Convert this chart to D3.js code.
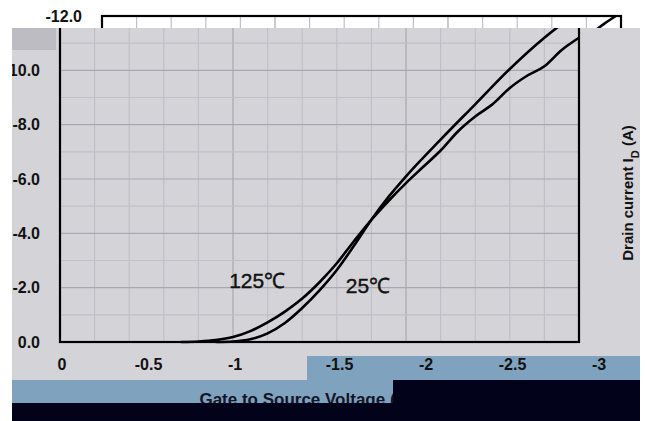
<!DOCTYPE html>
<html>
<head>
<meta charset="utf-8">
<script src="https://cdn.jsdelivr.net/npm/d3@7"></script>
<style>
body { margin: 0; background: #fff; }
svg { display: block; }
</style>
</head>
<body>
<svg id="chart" width="645" height="421"></svg>
<script>
// transfer characteristic
let vgs25 = [-0.9, -1.0, -1.1, -1.2, -1.3, -1.4, -1.5, -1.6, -1.7, -1.8, -1.9, -2.0, -2.2, -2.4, -2.6, -2.8, -2.9, -2.97]
let id25 = [0, 0.02, 0.1, 0.32, 0.7, 1.25, 1.9, 2.65, 3.55, 4.5, 5.35, 6.1, 7.45, 8.75, 10.05, 11.2, 11.7, 12.0]

let vgs125 = [-0.7, -0.8, -0.9, -1.0, -1.1, -1.2, -1.3, -1.4, -1.5, -1.6, -1.7, -1.8, -1.9, -2.0, -2.1, -2.2, -2.3, -2.4, -2.5, -2.6, -2.7, -2.8, -2.9, -3.0]
let id125 = [0, 0.02, 0.07, 0.18, 0.4, 0.72, 1.12, 1.6, 2.2, 2.9, 3.72, 4.5, 5.2, 5.85, 6.45, 7.05, 7.75, 8.3, 8.75, 9.35, 9.8, 10.15, 10.75, 11.2]

let xTicks = [0, -0.5, -1, -1.5, -2, -2.5, -3]
let xTickLabels = ['0', '-0.5', '-1', '-1.5', '-2', '-2.5', '-3']
let yTicks = [0, 2, 4, 6, 8, 10, 12]
let yTickLabels = ['0.0', '-2.0', '-4.0', '-6.0', '-8.0', '-10.0', '-12.0']

let tempLabels = ['125℃', '25℃']
let tempAt = [[-1.14, 2.25], [-1.78, 2.1]]

let svg = d3.select('#chart')
let x = d3.scaleLinear().domain([0, -3]).range([60, 579])
let y = d3.scaleLinear().domain([0, 12]).range([342, 16])

let defs = svg.append('defs')
defs.append('clipPath').attr('id', 'clipMain')
  .append('rect').attr('x', 12).attr('y', 28).attr('width', 628).attr('height', 393)
defs.append('clipPath').attr('id', 'clipTop')
  .append('rect').attr('x', 0).attr('y', 0).attr('width', 645).attr('height', 28)

// background bands (the picture is partly shifted)
svg.append('path').attr('fill', '#d4d3d8')
  .attr('d', 'M12,28H640V356H307V380H12Z')
svg.append('path').attr('fill', '#7fa2be')
  .attr('d', 'M12,380H307V356H640V380H393V403H12Z')
svg.append('rect').attr('x', 12).attr('y', 28).attr('width', 44).attr('height', 22).attr('fill', '#bdbcc2')

function drawPlot (g, full) {
  let xMinor = x.ticks(12)
  let yMinor = y.ticks(12)

  g.selectAll('.vgrid')
    .data(xMinor)
    .enter().append('line')
    .attr('x1', function (d) { return x(d) })
    .attr('x2', function (d) { return x(d) })
    .attr('y1', y(12))
    .attr('y2', y(0))
    .attr('stroke', function (d) { return Math.abs(d * 2 - Math.round(d * 2)) < 1e-6 ? '#a9a8ae' : '#c1c0c6' })
    .attr('stroke-width', 1.2)

  g.selectAll('.hgrid')
    .data(yMinor)
    .enter().append('line')
    .attr('x1', x(0))
    .attr('x2', x(-3))
    .attr('y1', function (d) { return y(d) })
    .attr('y2', function (d) { return y(d) })
    .attr('stroke', function (d) { return d % 2 === 0 ? '#a9a8ae' : '#c1c0c6' })
    .attr('stroke-width', 1.2)

  let line = d3.line()
    .x(function (d) { return x(d[0]) })
    .y(function (d) { return y(d[1]) })
    .curve(d3.curveMonotoneX)

  g.append('path')
    .attr('d', line(d3.zip(vgs125, id125)))
    .attr('fill', 'none')
    .attr('stroke', '#000')
    .attr('stroke-width', 2.6)

  g.append('path')
    .attr('d', line(d3.zip(vgs25, id25)))
    .attr('fill', 'none')
    .attr('stroke', '#000')
    .attr('stroke-width', 2.6)

  g.append('rect')
    .attr('x', x(0))
    .attr('y', y(12))
    .attr('width', x(-3) - x(0))
    .attr('height', y(0) - y(12))
    .attr('fill', 'none')
    .attr('stroke', '#000')
    .attr('stroke-width', 2.2)

  // only the top tick label shows in the shifted strip
  let yShown = full ? yTicks.slice(0, -1) : yTicks.slice(-1)
  g.selectAll('.ylab')
    .data(yShown)
    .enter().append('text')
    .attr('x', 40)
    .attr('y', function (d) { return y(d) })
    .attr('dy', '0.36em')
    .attr('text-anchor', 'end')
    .style('font', 'bold 16px "Liberation Sans", Arial, sans-serif')
    .attr('fill', '#111')
    .text(function (d) { return yTickLabels[yTicks.indexOf(d)] })

  if (!full) return

  g.selectAll('.xlab')
    .data(xTicks)
    .enter().append('text')
    .attr('x', function (d) { return x(d) + (x(d) > 300 ? 20 : 2) })
    .attr('y', 364)
    .attr('dy', '0.36em')
    .attr('text-anchor', 'middle')
    .style('font', 'bold 16px "Liberation Sans", Arial, sans-serif')
    .attr('fill', '#111')
    .text(function (d, i) { return xTickLabels[i] })

  g.selectAll('.temp')
    .data(tempAt)
    .enter().append('text')
    .attr('x', function (d) { return x(d[0]) })
    .attr('y', function (d) { return y(d[1]) })
    .attr('dy', '0.36em')
    .attr('text-anchor', 'middle')
    .style('font', '21px "Liberation Sans Narrow", "Arial Narrow", sans-serif')
    .attr('fill', '#111')
    .attr('stroke', '#111')
    .attr('stroke-width', 0.4)
    .text(function (d, i) { return tempLabels[i] })

  g.append('text')
    .attr('x', 306)
    .attr('y', 405)
    .attr('text-anchor', 'middle')
    .style('font', 'bold 17px "Liberation Sans", Arial, sans-serif')
    .attr('fill', '#141428')
    .text('Gate to  Source Voltage (V)')

  let yt = g.append('text')
    .attr('transform', 'translate(628,193) rotate(-90)')
    .attr('dy', '0.36em')
    .attr('text-anchor', 'middle')
    .style('font', 'bold 15px "Liberation Sans", Arial, sans-serif')
    .attr('fill', '#111')
  yt.append('tspan').text('Drain current I')
  yt.append('tspan').attr('baseline-shift', 'sub').style('font-size', '11px').text('D')
  yt.append('tspan').text(' (A)')
}

drawPlot(svg.append('g').attr('clip-path', 'url(#clipMain)'), true)
drawPlot(svg.append('g').attr('clip-path', 'url(#clipTop)').append('g').attr('transform', 'translate(42,0)'), false)

// dark band drawn over the lower part of the title, as in the picture
svg.append('path').attr('fill', '#03021b')
  .attr('d', 'M12,403H393V380H640V421H12Z')
</script>
</body>
</html>
